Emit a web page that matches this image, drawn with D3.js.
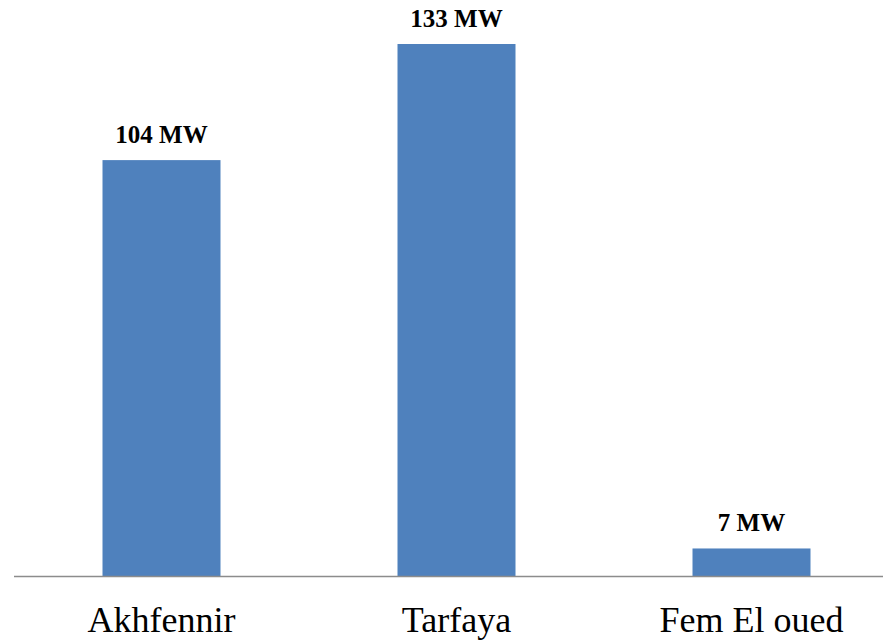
<!DOCTYPE html>
<html><head><meta charset="utf-8">
<script src="https://cdn.jsdelivr.net/npm/d3@7"></script>
<style>html,body{margin:0;padding:0;background:#fff;}</style>
</head><body>
<svg id="chart" width="883" height="640"></svg>
<script>
const categories = ["Akhfennir", "Tarfaya", "Fem El oued"];
const values = [104, 133, 7];
const valueLabels = ["104 MW", "133 MW", "7 MW"];

const svg = d3.select("#chart");
const baseY = 576.5;
const x = d3.scaleBand().domain(categories).range([14, 899]).paddingInner(0.6).paddingOuter(0.3);
const y = d3.scaleLinear().domain([0, 133]).range([baseY, 44]);

svg.selectAll("rect.bar").data(values).enter().append("rect")
  .attr("class","bar")
  .attr("x",(d,i)=>x(categories[i]))
  .attr("width",x.bandwidth())
  .attr("y",d=>y(d))
  .attr("height",d=>baseY-y(d))
  .attr("fill","#4F81BD");

svg.append("line").attr("x1",14).attr("x2",883).attr("y1",baseY).attr("y2",baseY)
  .attr("stroke","#8c8c8c").attr("stroke-width",1.5);

svg.selectAll("text.val").data(values).enter().append("text")
  .attr("class","val")
  .attr("x",(d,i)=>x(categories[i])+x.bandwidth()/2)
  .attr("y",d=>y(d)-17)
  .attr("text-anchor","middle")
  .attr("font-family","'Liberation Serif','Times New Roman',serif")
  .attr("font-weight","bold")
  .attr("font-size","25px")
  .attr("fill","#000")
  .text((d,i)=>valueLabels[i]);

svg.selectAll("text.cat").data(categories).enter().append("text")
  .attr("class","cat")
  .attr("x",d=>x(d)+x.bandwidth()/2)
  .attr("y",632)
  .attr("text-anchor","middle")
  .attr("font-family","'Liberation Serif','Times New Roman',serif")
  .attr("font-size","36px")
  .attr("fill","#000")
  .text(d=>d);
</script>
</body></html>
